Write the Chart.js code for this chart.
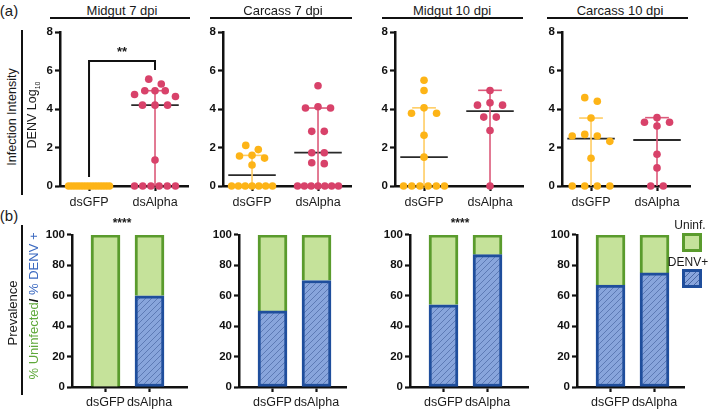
<!DOCTYPE html>
<html>
<head>
<meta charset="utf-8">
<script src="https://cdn.jsdelivr.net/npm/chart.js@4.4.1/dist/chart.umd.min.js"></script>
<style>
  body { margin: 0; background: #fff; font-family: "Liberation Sans", Arial, sans-serif; }
  #fig { position: relative; width: 709px; height: 409px; overflow: hidden; background: #fff; }
  #fig canvas { position: absolute; }
  .txt { position: absolute; white-space: nowrap; color: #1a1a1a; }
  .rule { position: absolute; background: #111; }
</style>
</head>
<body>
<div id="fig"></div>
<script>
const panelTitles = ['Midgut 7 dpi', 'Carcass 7 dpi', 'Midgut 10 dpi', 'Carcass 10 dpi'];
const groups = ['dsGFP', 'dsAlpha'];
const intensityTicks = [0, 2, 4, 6, 8];
const prevalenceTicks = [0, 20, 40, 60, 80, 100];

// DENV log10 per mosquito
const gfpMidgut7 = [0, 0, 0, 0, 0, 0, 0, 0, 0, 0, 0, 0, 0, 0];
const alphaMidgut7 = [5.55, 5.3, 4.95, 4.95, 4.95, 4.75, 4.65, 4.2, 4.2, 4.2, 1.35, 0, 0, 0, 0, 0, 0];
const gfpCarcass7 = [2.11, 1.89, 1.6, 1.56, 1.45, 1.09, 0, 0, 0, 0, 0, 0, 0];
const alphaCarcass7 = [5.21, 4.12, 4.05, 4.05, 2.84, 2.84, 1.73, 1.73, 1.21, 1.16, 0, 0, 0, 0, 0, 0, 0];
const gfpMidgut10 = [5.49, 4.96, 4.06, 3.78, 3.78, 2.64, 1.5, 0, 0, 0, 0, 0, 0];
const alphaMidgut10 = [4.96, 4.32, 4.2, 4.2, 3.58, 3.58, 2.88, 0];
const gfpCarcass10 = [4.59, 4.4, 3.53, 2.68, 2.6, 2.6, 2.32, 1.44, 0, 0, 0, 0];
const alphaCarcass10 = [3.55, 3.31, 3.31, 3.12, 1.65, 0.94, 0, 0];

// median and interquartile range as drawn
const gfpMedian = [0, 0.57, 1.5, 2.46];
const alphaMedian = [4.2, 1.73, 3.89, 2.39];
const gfpQ1 = [0, 0, 0, 0];
const alphaQ1 = [0, 0, 0, 0];
const gfpQ3 = [0, 1.59, 4.06, 3.53];
const alphaQ3 = [4.95, 4.05, 4.97, 3.55];

// prevalence: % DENV positive
const gfpPositive = [0, 50, 54, 67];
const alphaPositive = [60, 70, 87, 75];

const gfpSets = [gfpMidgut7, gfpCarcass7, gfpMidgut10, gfpCarcass10];
const alphaSets = [alphaMidgut7, alphaCarcass7, alphaMidgut10, alphaCarcass10];

const FONT = '"Liberation Sans", Arial, sans-serif';
const ORANGE = '#FDB417', ORANGE_BAR = '#FFCD63';
const RED = '#D8426A', RED_BAR = '#DC5A7A';
const GREEN_FILL = '#C5E29A', GREEN_LINE = '#5A9B2D';
const BLUE_LINE = '#1F4E9C';

const TOP_X = [60, 223, 395, 562];   // y axis position of each dot plot
const BOT_X = [72, 239, 410, 577];   // y axis position of each bar chart
const BOT_W = [115, 107, 118, 107];

const fig = document.getElementById('fig');

function addCanvas(left, top, w, h) {
    const c = document.createElement('canvas');
    c.width = w; c.height = h;
    c.style.left = left + 'px'; c.style.top = top + 'px';
    c.style.width = w + 'px'; c.style.height = h + 'px';
    fig.appendChild(c);
    return c;
}

function addText(html, x, y, size, extra) {
    const d = document.createElement('div');
    d.className = 'txt';
    d.innerHTML = html;
    d.style.left = x + 'px';
    d.style.top = y + 'px';
    d.style.fontSize = size + 'px';
    d.style.transform = 'translate(-50%, -50%)' + (extra && extra.rotate ? ' rotate(-90deg)' : '');
    if (extra && extra.css) d.style.cssText += extra.css;
    fig.appendChild(d);
}

function addRule(x, y, w, h) {
    const d = document.createElement('div');
    d.className = 'rule';
    d.style.left = x + 'px'; d.style.top = y + 'px';
    d.style.width = w + 'px'; d.style.height = h + 'px';
    fig.appendChild(d);
}

// spread dots sideways so they don't sit on top of each other
function swarm(values, center) {
    const sorted = values.slice().sort((a, b) => b - a);
    const rows = [];
    sorted.forEach(v => {
        const row = rows[rows.length - 1];
        if (row && row[0] - v < 0.42) row.push(v); else rows.push([v]);
    });
    const pts = [];
    rows.forEach(row => {
        const n = row.length;
        const step = n > 1 ? Math.min(0.19, 0.62 / (n - 1)) : 0;
        const slots = row.map((v, i) => (i - (n - 1) / 2) * step)
            .sort((a, b) => Math.abs(a) - Math.abs(b) || a - b);
        row.forEach((v, i) => pts.push({ x: center + slots[i], y: v }));
    });
    return pts;
}

function segment(points, color, width) {
    return {
        data: points, showLine: true, borderColor: color, borderWidth: width,
        pointRadius: 0, clip: false, order: 2
    };
}

function axisLook() {
    return {
        offset: false,
        grid: { offset: false, drawOnChartArea: false, drawTicks: true, tickLength: 5, tickWidth: 2.2, tickColor: '#111' },
        border: { display: true, width: 2.5, color: '#111' }
    };
}

function hatchPattern() {
    const c = document.createElement('canvas');
    c.width = 6; c.height = 6;
    const g = c.getContext('2d');
    g.fillStyle = '#88A5DC';
    g.fillRect(0, 0, 6, 6);
    g.strokeStyle = '#4A67A3';
    g.lineWidth = 0.7;
    g.beginPath();
    g.moveTo(0, 6); g.lineTo(6, 0);
    g.moveTo(-1, 1); g.lineTo(1, -1);
    g.moveTo(5, 7); g.lineTo(7, 5);
    g.stroke();
    return g.createPattern(c, 'repeat');
}

function intensityChart(i) {
    const cv = addCanvas(TOP_X[i] - 30, 22, 30 + 128 + 8, 188);
    const datasets = [
        { data: swarm(gfpSets[i], 1), backgroundColor: ORANGE, borderWidth: 0, pointRadius: 3.8, clip: false, order: 1 },
        { data: swarm(alphaSets[i], 2), backgroundColor: RED, borderWidth: 0, pointRadius: 3.8, clip: false, order: 1 },
        segment([{ x: 1, y: gfpQ1[i] }, { x: 1, y: gfpQ3[i] }], ORANGE_BAR, 1.6),
        segment([{ x: 0.82, y: gfpQ3[i] }, { x: 1.18, y: gfpQ3[i] }], ORANGE_BAR, 1.6),
        segment([{ x: 2, y: alphaQ1[i] }, { x: 2, y: alphaQ3[i] }], RED_BAR, 1.6),
        segment([{ x: 1.82, y: alphaQ3[i] }, { x: 2.18, y: alphaQ3[i] }], RED_BAR, 1.6),
        segment([{ x: 0.64, y: gfpMedian[i] }, { x: 1.36, y: gfpMedian[i] }], '#2a2a2a', 1.8),
        segment([{ x: 1.64, y: alphaMedian[i] }, { x: 2.36, y: alphaMedian[i] }], '#2a2a2a', 1.8)
    ];
    if (i === 0) {
        // significance bracket
        datasets.push(segment([{ x: 1, y: 0.47 }, { x: 1, y: 6.49 }, { x: 2, y: 6.49 }, { x: 2, y: 6.03 }], '#111', 2));
    }
    new Chart(cv, {
        type: 'scatter',
        data: { datasets: datasets },
        options: {
            responsive: false, animation: false, devicePixelRatio: 1,
            layout: { padding: { top: 10, right: 8, left: 0, bottom: 0 } },
            plugins: { legend: { display: false }, tooltip: { enabled: false } },
            scales: {
                x: Object.assign(axisLook(), {
                    type: 'linear', min: 0.56, max: 2.5,
                    afterBuildTicks: s => { s.ticks = [{ value: 1 }, { value: 2 }]; },
                    afterFit: s => { s.height = 24; },
                    ticks: { callback: v => groups[v - 1], autoSkip: false, maxRotation: 0, padding: 4.5,
                             color: '#1a1a1a', font: { family: FONT, size: 12.5 } }
                }),
                y: Object.assign(axisLook(), {
                    type: 'linear', min: 0, max: 8,
                    afterBuildTicks: s => { s.ticks = intensityTicks.map(v => ({ value: v })); },
                    afterFit: s => { s.width = 30; },
                    ticks: { padding: 2, color: '#111', font: { family: FONT, size: 11.5, weight: 'bold' } }
                })
            }
        }
    });
}

function prevalenceChart(i, pattern) {
    const w = BOT_W[i];
    const min = 1 - 33.5 / 44;
    const cv = addCanvas(BOT_X[i] - 34, 226, 34 + w + 4, 183);
    new Chart(cv, {
        type: 'bar',
        data: {
            datasets: [
                { label: 'DENV+', data: [{ x: 1, y: gfpPositive[i] }, { x: 2, y: alphaPositive[i] }],
                  backgroundColor: pattern, borderColor: BLUE_LINE, borderWidth: 3, borderSkipped: false, barThickness: 29 },
                { label: 'Uninf.', data: [{ x: 1, y: 100 - gfpPositive[i] }, { x: 2, y: 100 - alphaPositive[i] }],
                  backgroundColor: GREEN_FILL, borderColor: GREEN_LINE, borderWidth: 3, borderSkipped: 'bottom', barThickness: 29 }
            ]
        },
        options: {
            responsive: false, animation: false, devicePixelRatio: 1,
            layout: { padding: { top: 8, right: 4, left: 0, bottom: 0 } },
            plugins: { legend: { display: false }, tooltip: { enabled: false } },
            scales: {
                x: Object.assign(axisLook(), {
                    type: 'linear', stacked: true, min: min, max: min + w / 44,
                    afterBuildTicks: s => { s.ticks = [{ value: 1 }, { value: 2 }]; },
                    afterFit: s => { s.height = 22; },
                    ticks: { callback: v => groups[v - 1], autoSkip: false, maxRotation: 0, padding: 3.5,
                             color: '#1a1a1a', font: { family: FONT, size: 12.5 } }
                }),
                y: Object.assign(axisLook(), {
                    type: 'linear', stacked: true, min: 0, max: 100,
                    afterBuildTicks: s => { s.ticks = prevalenceTicks.map(v => ({ value: v })); },
                    afterFit: s => { s.width = 34; },
                    ticks: { padding: 2, color: '#111', font: { family: FONT, size: 11.5, weight: 'bold' } }
                })
            }
        }
    });
}

const pattern = hatchPattern();
for (let i = 0; i < 4; i++) {
    intensityChart(i);
    prevalenceChart(i, pattern);
}

// panel titles with rule underneath
const titleX = [122, 283, 452, 620];
const ruleSpan = [[50, 190], [210, 352], [382, 523], [547, 688]];
panelTitles.forEach((t, i) => {
    addText(t, titleX[i], 10, 13);
    addRule(ruleSpan[i][0], 17, ruleSpan[i][1] - ruleSpan[i][0], 1.5);
});

addText('(a)', 9, 10, 15);
addText('(b)', 9, 215, 15);

// y axis titles
addRule(21, 30, 1.5, 165);
addRule(21, 225, 1.5, 170);
addText('Infection Intensity', 12, 117, 12.5, { rotate: true });
addText('DENV Log<sub style="font-size:7px">10</sub>', 33, 115, 12.5, { rotate: true });
addText('Prevalence', 12, 313, 13, { rotate: true });
addText('<span style="color:#5FA83A">% Uninfected</span><b style="color:#111">/</b> <span style="color:#3B69C0">% DENV +</span>',
        33, 306, 13, { rotate: true });

// significance marks
addText('**', 122, 51, 13, { css: 'font-weight:bold;' });
addText('****', 122, 223, 12, { css: 'font-weight:bold;' });
addText('****', 460, 223, 12, { css: 'font-weight:bold;' });

// legend
addText('Uninf.', 690, 225, 12);
addText('DENV+', 688, 262, 12);
const boxG = document.createElement('div');
boxG.style.cssText = 'position:absolute;left:682px;top:233px;width:20px;height:19px;box-sizing:border-box;' +
    'background:' + GREEN_FILL + ';border:3px solid ' + GREEN_LINE + ';';
fig.appendChild(boxG);
const boxB = document.createElement('div');
boxB.style.cssText = 'position:absolute;left:682px;top:269px;width:20px;height:19px;box-sizing:border-box;' +
    'background:repeating-linear-gradient(135deg,#88A5DC 0px,#88A5DC 3.2px,#4A67A3 3.2px,#4A67A3 4.0px);' +
    'border:3px solid ' + BLUE_LINE + ';';
fig.appendChild(boxB);
</script>
</body>
</html>
